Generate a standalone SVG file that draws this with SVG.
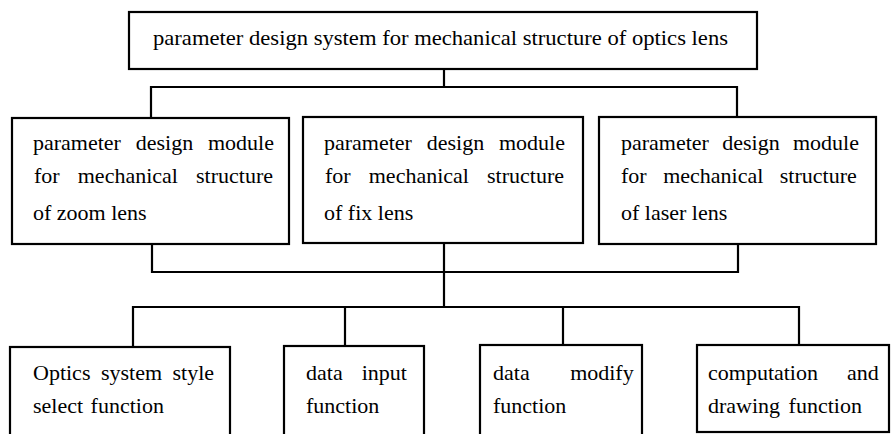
<svg xmlns="http://www.w3.org/2000/svg" width="891" height="434" viewBox="0 0 891 434">
<style>
.box{fill:#fff;stroke:#000;stroke-width:2.2}
.ln{fill:none;stroke:#000;stroke-width:2.2}
text{font-family:"Liberation Serif","Times New Roman",serif;font-size:22px;fill:#000}
.t{font-size:21px}
.j1{word-spacing:9.3px}
.j2{word-spacing:12.6px}
</style>
<rect width="891" height="434" fill="#fff"/>
<g id="connectors">
<path class="ln" d="M444 69V87M151 117V87H737V117"/>
<path class="ln" d="M152 244V272H738V244M444 243V307"/>
<path class="ln" d="M133 346V307H799V345M345 307V346M563 307V345"/>
</g>
<g id="top">
<rect class="box" x="129" y="12" width="628" height="57"/>
<text class="t" x="153" y="45" textLength="575" lengthAdjust="spacingAndGlyphs">parameter design system for mechanical structure of optics lens</text>
</g>
<g id="zoom">
<rect class="box" x="12" y="118" width="277" height="126"/>
<text class="j1" x="33" y="150">parameter design module</text>
<text class="j2" x="34" y="183">for mechanical structure</text>
<text x="33" y="220">of zoom lens</text>
</g>
<g id="fix">
<rect class="box" x="303" y="117" width="280" height="126"/>
<text class="j1" x="324" y="150">parameter design module</text>
<text class="j2" x="325" y="183">for mechanical structure</text>
<text x="324" y="220">of fix lens</text>
</g>
<g id="laser">
<rect class="box" x="599" y="117" width="277" height="127"/>
<text x="621" y="150" style="word-spacing:7.8px">parameter design module</text>
<text x="621" y="183" style="word-spacing:11px">for mechanical structure</text>
<text x="621" y="220">of laser lens</text>
</g>
<g id="select">
<rect class="box" x="10" y="347" width="220" height="100"/>
<text x="33" y="380" style="word-spacing:5px">Optics system style</text>
<text x="33" y="413" style="word-spacing:2px">select function</text>
</g>
<g id="input">
<rect class="box" x="284" y="346" width="140" height="100"/>
<text x="306" y="380" style="word-spacing:13.6px">data input</text>
<text x="306" y="413">function</text>
</g>
<g id="modify">
<rect class="box" x="480" y="345" width="162" height="100"/>
<text x="493" y="380" style="word-spacing:35px">data modify</text>
<text x="493" y="413">function</text>
</g>
<g id="compute">
<rect class="box" x="697" y="345" width="192" height="87"/>
<text x="708" y="380" style="word-spacing:23.5px">computation and</text>
<text x="708" y="413" style="word-spacing:3px">drawing function</text>
</g>
</svg>
